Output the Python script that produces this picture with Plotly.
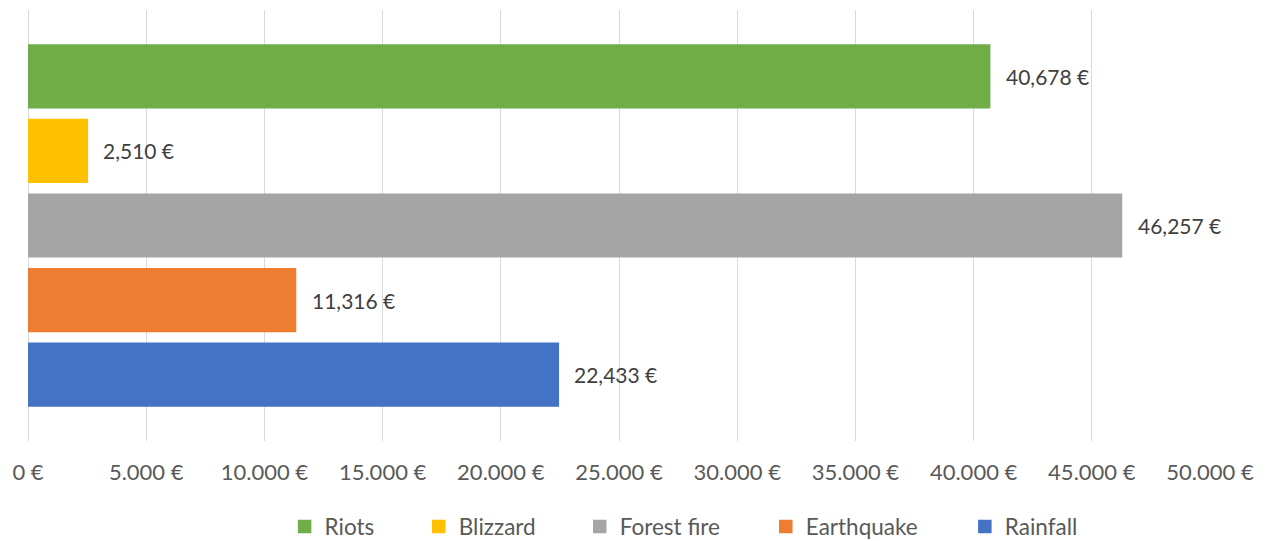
import plotly.graph_objects as go

# Claim totals per peril (EUR)
perils = ["Riots", "Blizzard", "Forest fire", "Earthquake", "Rainfall"]
amounts = [40678, 2510, 46257, 11316, 22433]
colors = ["#70AD47", "#FFC000", "#A5A5A5", "#ED7D31", "#4472C4"]

# Value axis ticks
tick_values = [0, 5000, 10000, 15000, 20000, 25000, 30000, 35000, 40000, 45000, 50000]
tick_labels = ["0 €", "5.000 €", "10.000 €", "15.000 €", "20.000 €", "25.000 €",
               "30.000 €", "35.000 €", "40.000 €", "45.000 €", "50.000 €"]

# horizontal anchor of each legend entry (paper fraction)
legend_x = [0.2171, 0.3306, 0.4668, 0.6242, 0.7926]

FONT = "Lato"
TEXT_GREY = "#595959"
LABEL_GREY = "#404040"

fig = go.Figure()
for i, (name, val, col) in enumerate(zip(perils, amounts, colors)):
    leg = "legend" if i == 0 else f"legend{i + 1}"
    fig.add_trace(go.Bar(
        x=[val], y=[name], name=name, orientation="h",
        marker=dict(color=col, line=dict(width=1.5, color=col)),
        legend=leg, hoverinfo="x+name",
    ))
    fig.add_annotation(
        x=val, y=name, text=f"{val:,} €", showarrow=False,
        xanchor="left", xshift=14,
        font=dict(family=FONT, size=21, color=LABEL_GREY),
    )

legend_common = dict(
    orientation="h", yanchor="middle", y=-0.199, xanchor="left",
    font=dict(family=FONT, size=22.5, color=TEXT_GREY),
    bgcolor="rgba(0,0,0,0)", borderwidth=0,
)
layout_legends = {}
for i, lx in enumerate(legend_x):
    key = "legend" if i == 0 else f"legend{i + 1}"
    layout_legends[key] = dict(legend_common, x=lx)

fig.update_layout(
    width=1270, height=541,
    margin=dict(l=28, r=60, t=10, b=100, autoexpand=False),
    paper_bgcolor="white", plot_bgcolor="white",
    barmode="overlay", bargap=0.16,
    showlegend=True,
    font=dict(family=FONT, size=21, color=TEXT_GREY),
    xaxis=dict(
        range=[0, 50000], tickvals=tick_values, ticktext=tick_labels,
        showgrid=True, gridcolor="#D9D9D9", gridwidth=1,
        zeroline=True, zerolinecolor="#D9D9D9", zerolinewidth=1,
        showline=False, ticks="", ticklabelstandoff=16,
        tickfont=dict(family=FONT, size=22, color=TEXT_GREY),
        automargin=False, fixedrange=True,
    ),
    yaxis=dict(
        type="category", categoryorder="array", categoryarray=perils,
        range=[4.89, -0.89], showticklabels=False, showgrid=False,
        zeroline=False, showline=False, ticks="", automargin=False,
        fixedrange=True,
    ),
    **layout_legends,
)

fig.write_html("out.html")
